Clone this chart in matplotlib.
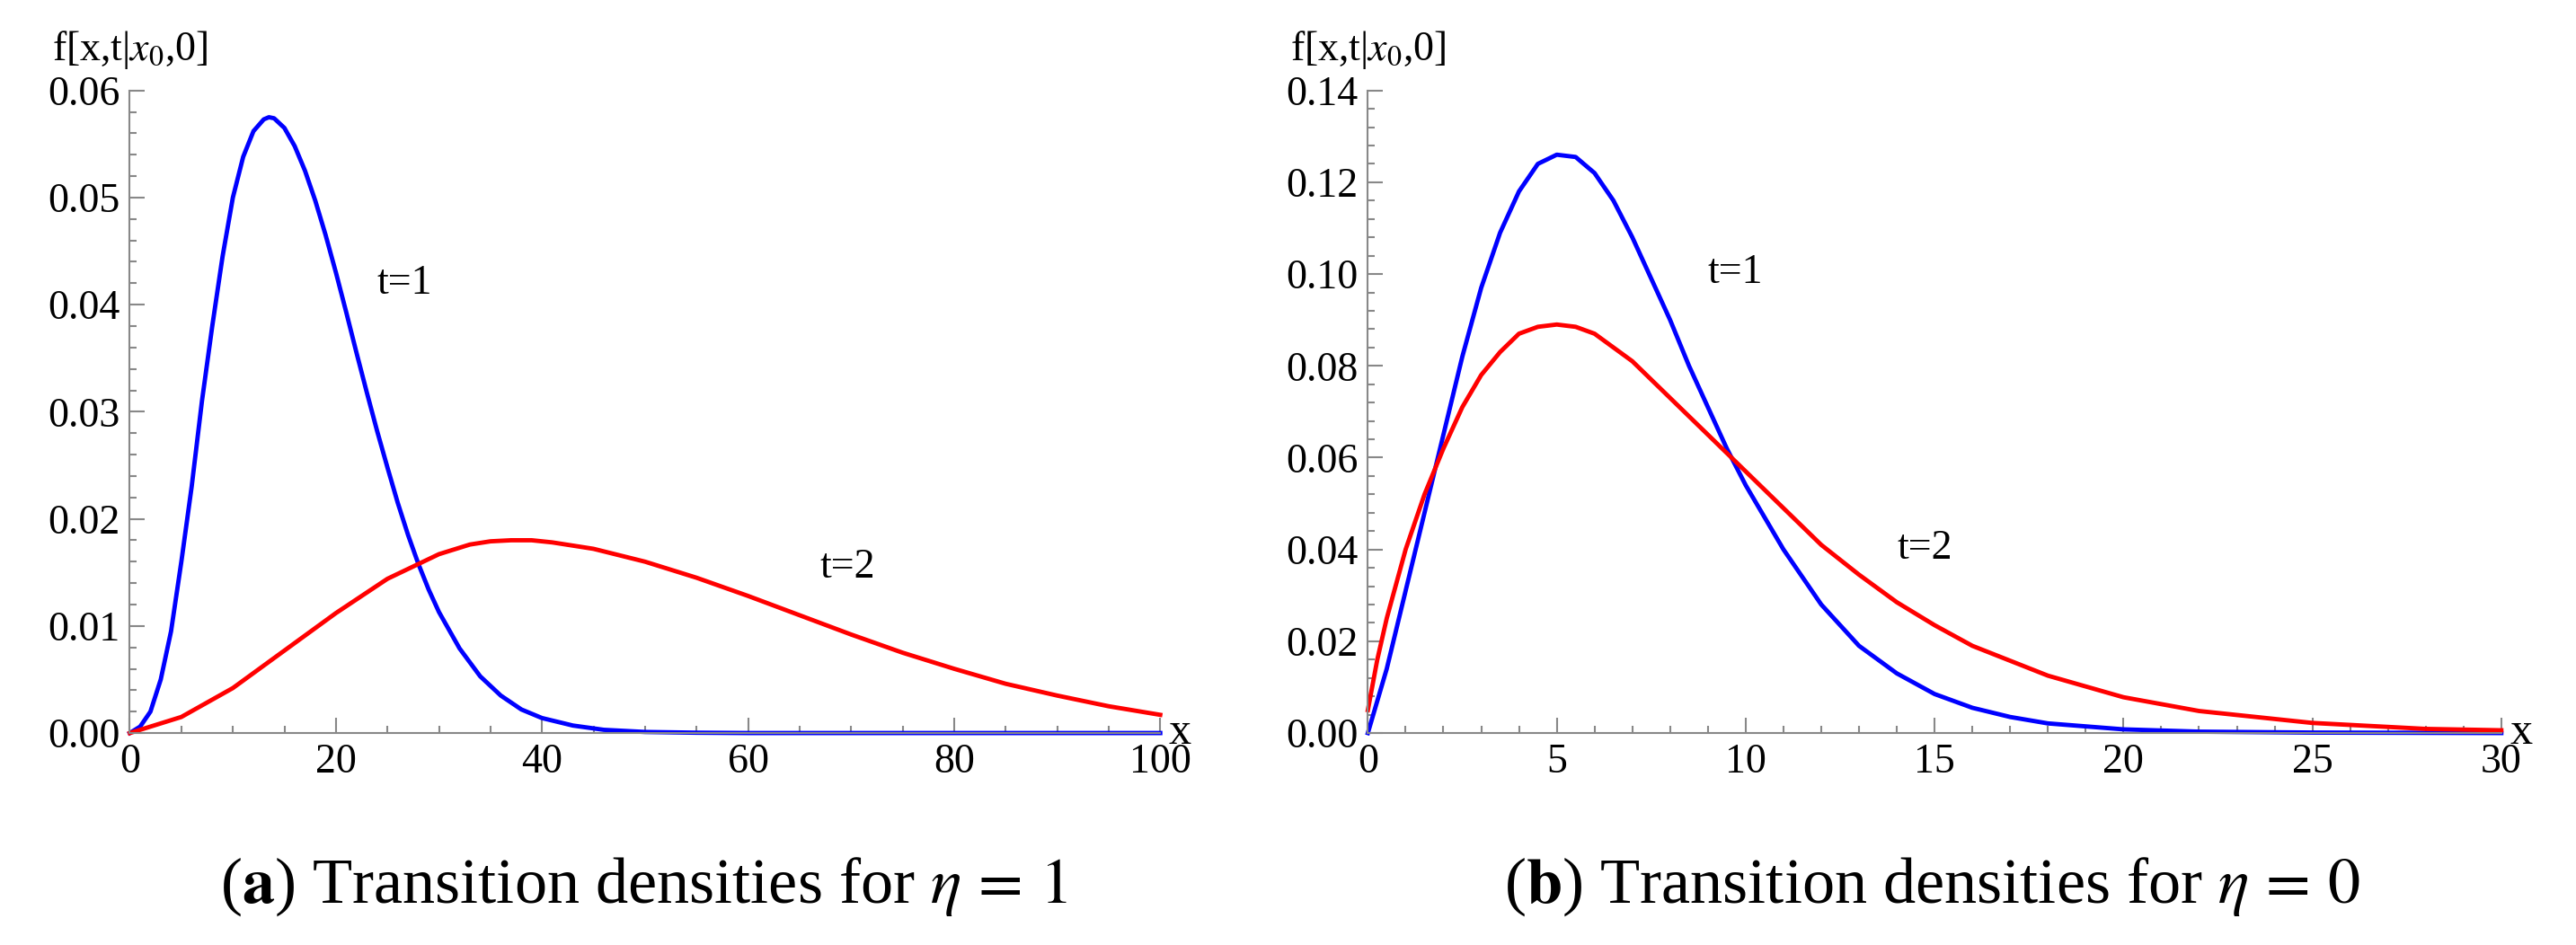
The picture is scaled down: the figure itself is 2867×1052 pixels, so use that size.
import matplotlib
matplotlib.use("Agg")
import matplotlib.pyplot as plt
from matplotlib.ticker import MultipleLocator

plt.rcParams["font.family"] = ["Liberation Serif", "DejaVu Serif"]
plt.rcParams["mathtext.fontset"] = "stix"

# panel (a), eta = 1
xa1 = [0, 1, 2, 3, 4, 5, 6, 7, 8, 9, 10, 11, 12, 13, 13.5, 14, 15, 16, 17, 18, 19, 20, 21, 22, 23, 24, 25,
       26, 27, 28, 29, 30, 32, 34, 36, 38, 40, 43, 46, 50, 55, 60, 80, 100]
ya1 = [0, 0.0006, 0.002, 0.005, 0.0095, 0.016, 0.023, 0.031, 0.038, 0.0445, 0.050, 0.0538, 0.0562, 0.0573,
       0.0575, 0.0574, 0.0565, 0.0548, 0.0525, 0.0497, 0.0465, 0.0430, 0.0393, 0.0355, 0.0318, 0.0282,
       0.0248, 0.0215, 0.0185, 0.0158, 0.0134, 0.0113, 0.0079, 0.0053, 0.0035, 0.0022, 0.0014, 0.0007,
       0.0003, 0.0001, 0.00003, 0, 0, 0]
xa2 = [0, 5, 10, 15, 20, 25, 30, 33, 35, 37, 39, 41, 45, 50, 55, 60, 65, 70, 75, 80, 85, 90, 95, 100]
ya2 = [0, 0.0015, 0.0042, 0.0077, 0.0112, 0.0144, 0.0167, 0.0176, 0.0179, 0.0180, 0.0180, 0.0178, 0.0172,
       0.0160, 0.0145, 0.0128, 0.0110, 0.0092, 0.0075, 0.0060, 0.0046, 0.0035, 0.0025, 0.0017]

# panel (b), eta = 0
xb1 = [0, 0.5, 1, 1.5, 2, 2.5, 3, 3.5, 4, 4.5, 5, 5.5, 6, 6.5, 7, 7.5, 8, 8.5, 9, 9.5, 10, 11, 12, 13,
       14, 15, 16, 17, 18, 20, 22, 25, 30]
yb1 = [0, 0.014, 0.031, 0.048, 0.065, 0.082, 0.097, 0.109, 0.118, 0.124, 0.126, 0.1255, 0.122, 0.116,
       0.108, 0.099, 0.090, 0.080, 0.071, 0.062, 0.054, 0.040, 0.028, 0.019, 0.013, 0.0085, 0.0055, 0.0035,
       0.0021, 0.0008, 0.0003, 0.0001, 0]
xb2 = [0, 0.25, 0.5, 1, 1.5, 2, 2.5, 3, 3.5, 4, 4.5, 5, 5.5, 6, 7, 8, 9, 10, 11, 12, 13, 14, 15, 16, 18,
       20, 22, 25, 28, 30]
yb2 = [0.005, 0.016, 0.025, 0.040, 0.052, 0.062, 0.071, 0.078, 0.083, 0.087, 0.0885, 0.089, 0.0885, 0.087,
       0.081, 0.073, 0.065, 0.057, 0.049, 0.041, 0.0345, 0.0285, 0.0235, 0.019, 0.0125, 0.0078, 0.0048,
       0.0022, 0.0009, 0.0006]

fig = plt.figure(figsize=(28.67, 10.52), dpi=100)
axa = fig.add_axes([0.0504, 0.2243, 0.400, 0.680])
axb = fig.add_axes([0.531, 0.2243, 0.440, 0.680])


def estilo(ax, xmax, ymax, xmaj, xmin, ymaj, ymin):
    ax.set_xlim(0, xmax)
    ax.set_ylim(0, ymax)
    for s in ("top", "right"):
        ax.spines[s].set_visible(False)
    for s in ("left", "bottom"):
        ax.spines[s].set_color("#888888")
        ax.spines[s].set_linewidth(1.5)
    ax.xaxis.set_major_locator(MultipleLocator(xmaj))
    ax.xaxis.set_minor_locator(MultipleLocator(xmin))
    ax.yaxis.set_major_locator(MultipleLocator(ymaj))
    ax.yaxis.set_minor_locator(MultipleLocator(ymin))
    ax.yaxis.set_major_formatter(lambda v, p: f"{v:.2f}")
    ax.tick_params(which="both", direction="in", color="#888888", labelsize=33, width=1.5, pad=8)
    ax.tick_params(which="major", length=12)
    ax.tick_params(which="minor", length=6)
    ax.set_clip_on(False)
    ax.text(1.008, 0.0, "x", transform=ax.transAxes, fontsize=36, ha="left", va="center")
    ax.text(0.0, 1.03, r"f[x,t|$x_0$,0]", transform=ax.transAxes, fontsize=33, ha="center", va="bottom")


estilo(axa, 100, 0.06, 20, 5, 0.01, 0.002)
estilo(axb, 30, 0.14, 5, 1, 0.02, 0.004)

axa.plot(xa1, ya1, color="#0000ff", lw=3.5, clip_on=False)
axa.plot(xa2, ya2, color="#ff0000", lw=3.5, clip_on=False)
axa.text(24, 0.041, "t=1", fontsize=33)
axa.text(67, 0.0145, "t=2", fontsize=33)

axb.plot(xb1, yb1, color="#0000ff", lw=3.5, clip_on=False)
axb.plot(xb2, yb2, color="#ff0000", lw=3.5, clip_on=False)
axb.text(9, 0.098, "t=1", fontsize=33)
axb.text(14, 0.038, "t=2", fontsize=33)

fig.text(0.25, 0.045, r"($\mathbf{a}$) Transition densities for $\eta\,=\,1$", fontsize=52, ha="center")
fig.text(0.75, 0.045, r"($\mathbf{b}$) Transition densities for $\eta\,=\,0$", fontsize=52, ha="center")

fig.savefig("out.png", dpi=100)
